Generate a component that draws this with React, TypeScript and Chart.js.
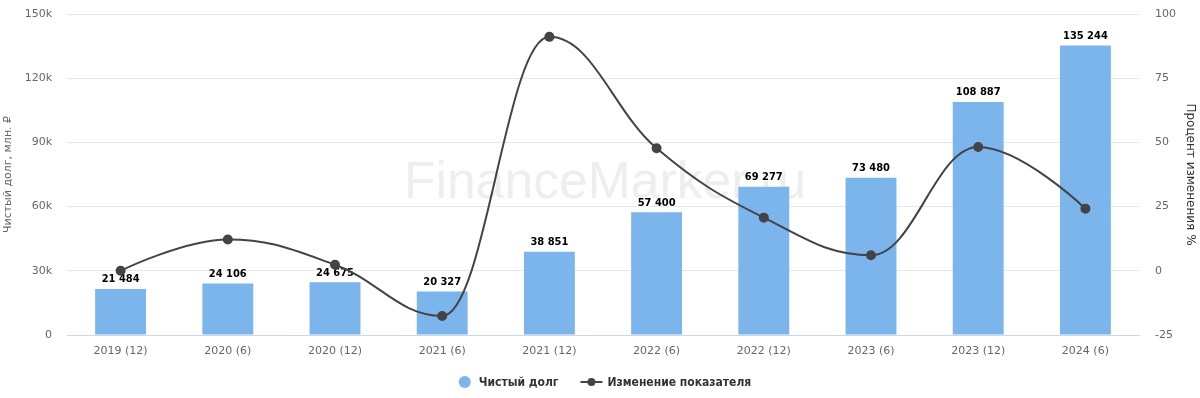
import React, { useEffect, useRef } from "react";
import { Chart, registerables } from "chart.js";

Chart.register(...registerables);

const categories = ["2019 (12)", "2020 (6)", "2020 (12)", "2021 (6)", "2021 (12)", "2022 (6)", "2022 (12)", "2023 (6)", "2023 (12)", "2024 (6)"];
const netDebt = [21484, 24106, 24675, 20327, 38851, 57400, 69277, 73480, 108887, 135244];
const changePct = [0, 12.2, 2.36, -17.6, 91.1, 47.7, 20.7, 6.07, 48.2, 24.2];
const leftTicks = [0, 30000, 60000, 90000, 120000, 150000];
const rightTicks = [-25, 0, 25, 50, 75, 100];

const BAR_COLOR = "#7cb5ec";
const LINE_COLOR = "#434348";
const FONT = "'DejaVu Sans', Verdana, sans-serif";
const COND = "'DejaVu Sans Condensed', 'DejaVu Sans', sans-serif";
const CLEAR = "rgba(0,0,0,0)";

const fmt = (v: number) => String(v).replace(/\B(?=(\d{3})+(?!\d))/g, " ");

// Highcharts-like spline control points computed from the library's point positions
function applySpline(points: any[]) {
  const smoothing = 1.5;
  const denom = smoothing + 1;
  for (let i = 0; i < points.length; i++) {
    const p = points[i];
    const last = points[i - 1];
    const next = points[i + 1];
    if (!last || !next) {
      p.cp1x = p.x; p.cp1y = p.y; p.cp2x = p.x; p.cp2y = p.y;
      continue;
    }
    const leftX = (smoothing * p.x + last.x) / denom;
    let leftY = (smoothing * p.y + last.y) / denom;
    const rightX = (smoothing * p.x + next.x) / denom;
    let rightY = (smoothing * p.y + next.y) / denom;
    let corr = 0;
    if (rightX !== leftX) {
      corr = ((rightY - leftY) * (rightX - p.x)) / (rightX - leftX) + p.y - rightY;
    }
    leftY += corr;
    rightY += corr;
    if (leftY > last.y && leftY > p.y) {
      leftY = Math.max(last.y, p.y);
      rightY = 2 * p.y - leftY;
    } else if (leftY < last.y && leftY < p.y) {
      leftY = Math.min(last.y, p.y);
      rightY = 2 * p.y - leftY;
    }
    if (rightY > next.y && rightY > p.y) {
      rightY = Math.max(next.y, p.y);
      leftY = 2 * p.y - rightY;
    } else if (rightY < next.y && rightY < p.y) {
      rightY = Math.min(next.y, p.y);
      leftY = 2 * p.y - rightY;
    }
    p.cp1x = leftX; p.cp1y = leftY; p.cp2x = rightX; p.cp2y = rightY;
  }
}

const customPlugin = {
  id: "custom",
  beforeDatasetsDraw(chart: any) {
    const ctx = chart.ctx;
    ctx.save();
    ctx.font = `52px 'Liberation Sans', Arial, sans-serif`;
    const text = "FinanceMarker.ru";
    const w = ctx.measureText(text).width;
    const target = 402;
    ctx.translate(605, 184);
    ctx.scale(target / w, 1);
    ctx.fillStyle = "#eeeeee";
    ctx.textAlign = "center";
    ctx.textBaseline = "middle";
    ctx.fillText(text, 0, 0);
    ctx.restore();
  },
  beforeDatasetDraw(chart: any, args: any) {
    if (args.index !== 1) return;
    const line = args.meta.dataset;
    if (line && line.updateControlPoints) line.updateControlPoints(chart.chartArea);
    applySpline(args.meta.data);
  },
  afterDatasetDraw(chart: any, args: any) {
    if (args.index !== 0) return;
    const ctx = chart.ctx;
    const meta = args.meta;
    ctx.save();
    ctx.font = `bold 11px ${COND}`;
    ctx.textAlign = "center";
    ctx.textBaseline = "bottom";
    ctx.lineJoin = "round";
    meta.data.forEach((bar: any, i: number) => {
      const t = fmt(netDebt[i]);
      ctx.strokeStyle = "#ffffff";
      ctx.lineWidth = 2;
      ctx.strokeText(t, bar.x, bar.y - 4);
      ctx.fillStyle = "#000000";
      ctx.fillText(t, bar.x, bar.y - 4);
    });
    ctx.restore();
  },
  afterDraw(chart: any) {
    const ctx = chart.ctx;
    ctx.save();
    ctx.font = `bold 12px ${COND}`;
    ctx.textBaseline = "middle";
    const t1 = "Чистый долг";
    const t2 = "Изменение показателя";
    const w1 = ctx.measureText(t1).width;
    const w2 = ctx.measureText(t2).width;
    const total = 12 + 8 + w1 + 22 + 22 + 5 + w2;
    let x = 605 - total / 2;
    const y = 382;
    ctx.fillStyle = BAR_COLOR;
    ctx.beginPath();
    ctx.arc(x + 6, y, 6, 0, Math.PI * 2);
    ctx.fill();
    x += 20;
    ctx.fillStyle = "#333333";
    ctx.textAlign = "left";
    ctx.fillText(t1, x, y + 1);
    x += w1 + 22;
    ctx.strokeStyle = LINE_COLOR;
    ctx.lineWidth = 2;
    ctx.beginPath();
    ctx.moveTo(x, y);
    ctx.lineTo(x + 22, y);
    ctx.stroke();
    ctx.fillStyle = LINE_COLOR;
    ctx.beginPath();
    ctx.arc(x + 11, y, 4, 0, Math.PI * 2);
    ctx.fill();
    x += 27;
    ctx.fillStyle = "#333333";
    ctx.fillText(t2, x, y + 1);
    ctx.restore();
  },
};

export default function App() {
  const ref = useRef<HTMLCanvasElement>(null);
  useEffect(() => {
    if (!ref.current) return;
    const chart = new Chart(ref.current, {
      type: "bar",
      data: {
        labels: categories,
        datasets: [
          {
            type: "bar",
            label: "Чистый долг",
            data: netDebt,
            backgroundColor: BAR_COLOR,
            borderWidth: 0,
            yAxisID: "y",
            barPercentage: 0.475,
            categoryPercentage: 1,
            order: 2,
          },
          {
            type: "line",
            label: "Изменение показателя",
            data: changePct,
            borderColor: LINE_COLOR,
            backgroundColor: LINE_COLOR,
            borderWidth: 2,
            pointRadius: 4,
            pointHoverRadius: 4,
            tension: 0.4,
            capBezierPoints: false,
            yAxisID: "y1",
            order: 1,
          },
        ] as any,
      },
      options: {
        animation: false,
        responsive: false,
        maintainAspectRatio: false,
        layout: { padding: { top: 14, left: 0, right: 0, bottom: 0 } },
        plugins: {
          legend: { display: false },
          tooltip: { enabled: false },
        },
        scales: {
          x: {
            grid: { display: false, drawTicks: false },
            border: { display: true, color: "#ccd6eb", width: 1 },
            ticks: { color: "#666666", font: { family: FONT, size: 11 }, padding: 10, maxRotation: 0 },
            afterFit: (s: any) => { s.height = 63; },
          },
          y: {
            position: "left",
            min: 0,
            max: 150000,
            afterBuildTicks: (s: any) => { s.ticks = leftTicks.map((v) => ({ value: v })); },
            grid: { color: "#e6e6e6", drawTicks: true, tickLength: 15, tickColor: CLEAR },
            border: { display: false },
            ticks: {
              color: "#666666",
              font: { family: FONT, size: 11 },
              padding: 0,
              callback: (v: any) => (v === 0 ? "0" : v / 1000 + "k"),
            },
            title: {
              display: true,
              text: "Чистый долг, млн. ₽",
              color: "#666666",
              font: { family: FONT, size: 11 },
              padding: { top: 2, bottom: 0 },
            },
            afterFit: (s: any) => { s.width = 67; },
          },
          y1: {
            position: "right",
            min: -25,
            max: 100,
            afterBuildTicks: (s: any) => { s.ticks = rightTicks.map((v) => ({ value: v })); },
            grid: { display: true, drawOnChartArea: false, color: CLEAR, drawTicks: true, tickLength: 16, tickColor: CLEAR },
            border: { display: false },
            ticks: {
              color: "#666666",
              font: { family: FONT, size: 11 },
              padding: 0,
              callback: (v: any) => String(v),
            },
            title: {
              display: true,
              text: "Процент изменения %",
              color: "#333333",
              font: { family: FONT, size: 12 },
              padding: { top: 3, bottom: 0 },
            },
            afterFit: (s: any) => { s.width = 61; },
          },
        },
      } as any,
      plugins: [customPlugin],
    });
    return () => chart.destroy();
  }, []);
  return (
    <div style={{ position: "fixed", left: 0, top: 0, width: 1200, height: 398, background: "#ffffff" }}>
      <canvas ref={ref} width={1200} height={398} style={{ width: 1200, height: 398 }} />
    </div>
  );
}
